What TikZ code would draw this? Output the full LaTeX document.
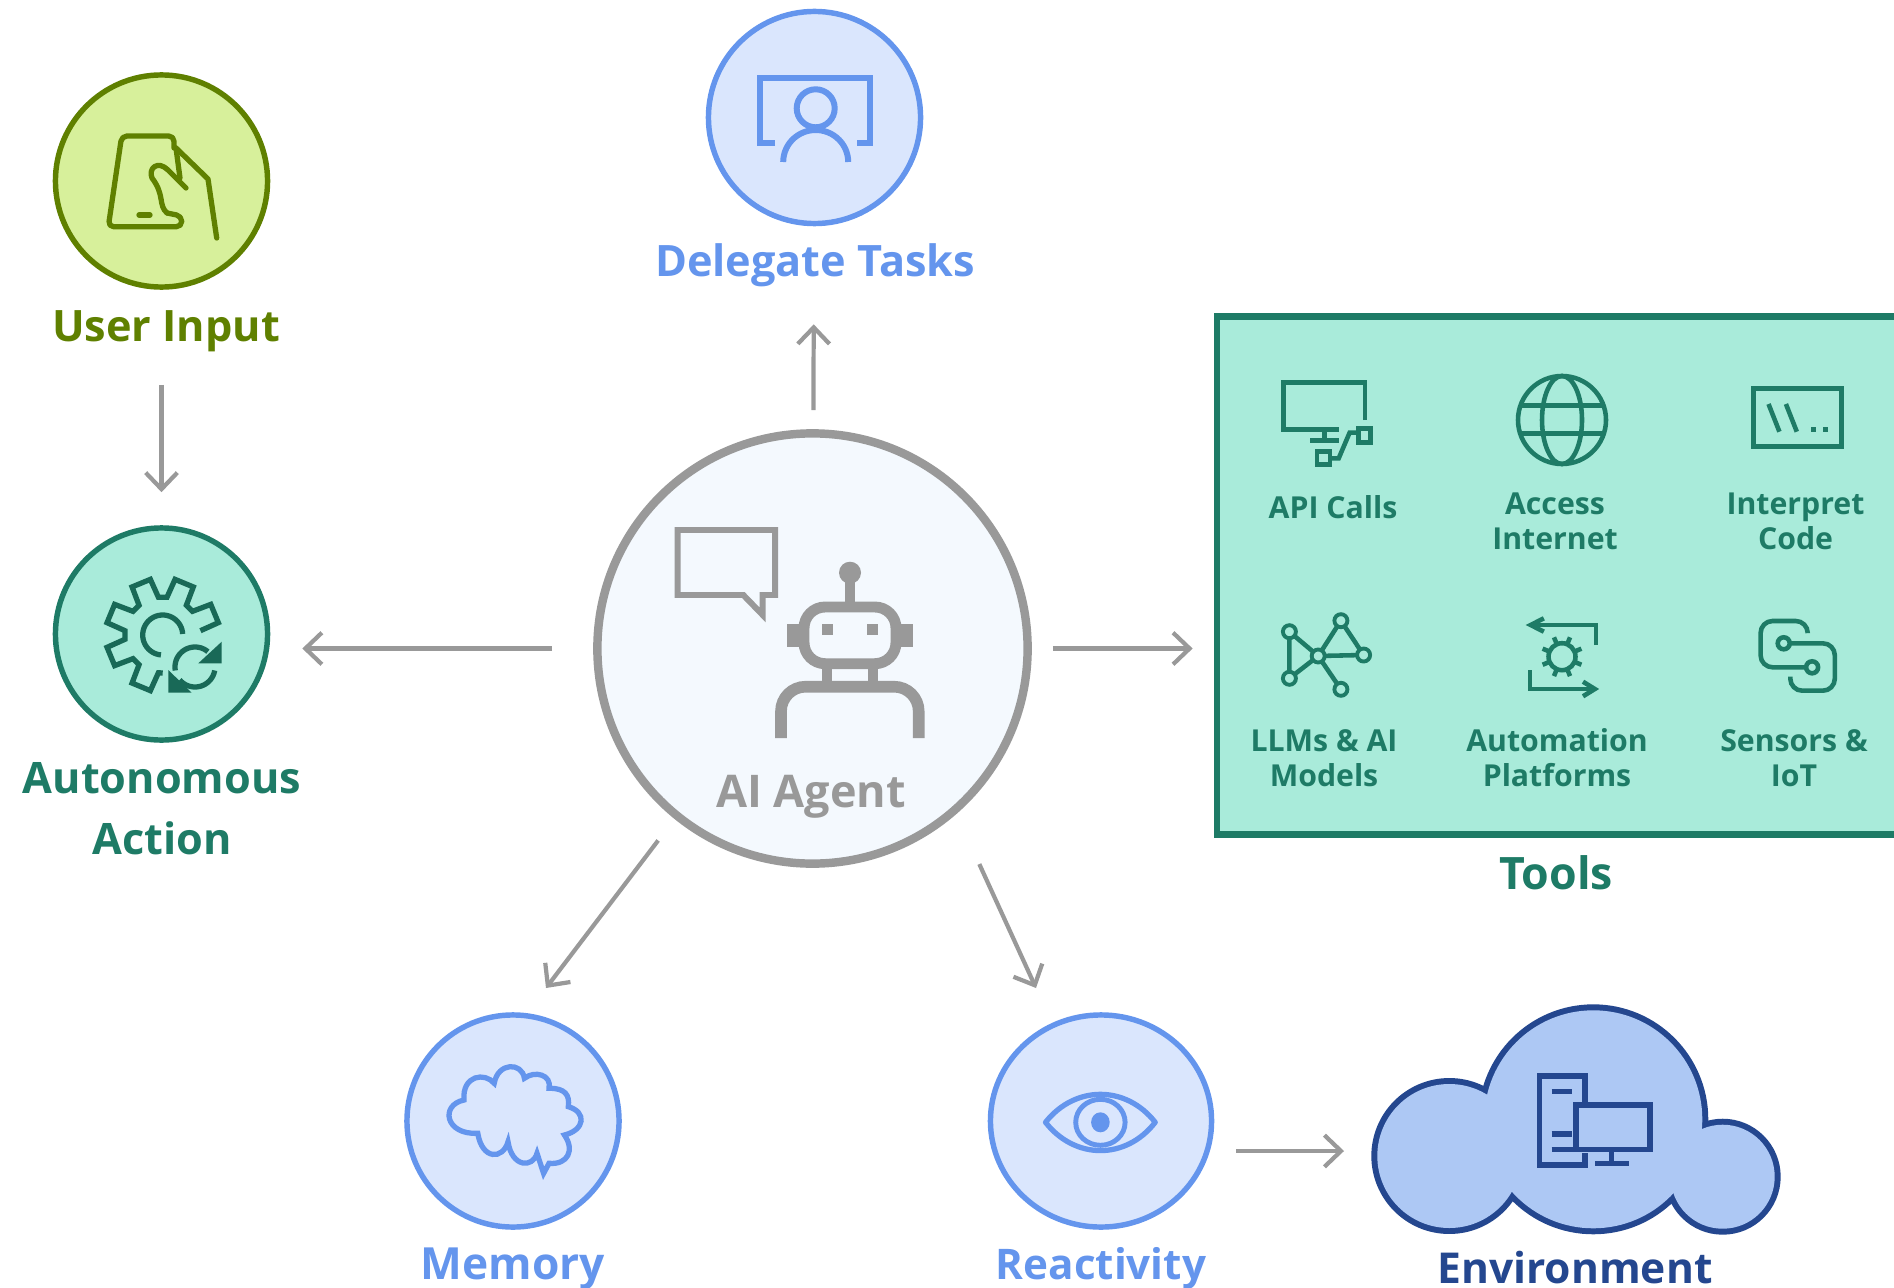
\documentclass[tikz,border=0pt]{standalone}
\usepackage{fontspec}
\setmainfont{Open Sans}
\usetikzlibrary{scopes,arrows.meta,shapes.geometric}

\definecolor{grass}{HTML}{5F8000}
\definecolor{grassfill}{HTML}{D7F09B}
\definecolor{teal}{HTML}{1E7B66}
\definecolor{tealfill}{HTML}{A9EBDA}
\definecolor{sky}{HTML}{6495ED}
\definecolor{skyfill}{HTML}{DAE6FD}
\definecolor{ash}{HTML}{999999}
\definecolor{ashfill}{HTML}{F4F9FE}
\definecolor{navy}{HTML}{24478F}
\definecolor{navyfill}{HTML}{ADC8F4}

\begin{document}
\begin{tikzpicture}[
    x=0.01cm,y=-0.01cm,
    ball/.style={circle,inner sep=0pt,minimum size=2.12cm,line width=1.55pt},
    flow/.style={draw=ash,line width=1.2pt,-{Straight Barb[length=4.7pt,width=9pt]}},
    title/.style={font=\bfseries\fontsize{12.3}{17.2}\selectfont,anchor=base,align=center,inner sep=0pt},
    tool/.style={font=\bfseries\fontsize{8.6}{9.7}\selectfont,text=teal,anchor=base,align=center,inner sep=0pt},
    pen/.style={line width=1.5pt},
    thin pen/.style={line width=1.3pt},
    hub/.style={circle,draw=teal,fill=tealfill,inner sep=0pt,minimum size=0.13cm,line width=1.1pt},
]
    \path[clip,use as bounding box] (0,0) rectangle (1894,1288);

    %%%
    % Round nodes
    \node[ball,draw=grass,fill=grassfill] (user) at (161.5,181) {};
    \node[ball,draw=teal,fill=tealfill] (action) at (161.5,634) {};
    \node[ball,draw=sky,fill=skyfill] (delegate) at (814.5,117.5) {};
    \node[ball,draw=sky,fill=skyfill] (memory) at (513,1121) {};
    \node[ellipse,inner sep=0pt,minimum width=2.21cm,minimum height=2.12cm,line width=1.55pt,draw=sky,fill=skyfill] (react) at (1101,1121) {};
    \node[circle,inner sep=0pt,minimum size=4.3cm,line width=2.4pt,draw=ash,fill=ashfill] (agent) at (812.5,648.5) {};
    \node[rectangle,inner sep=0pt,minimum width=6.93cm,minimum height=5.18cm,line width=1.8pt,draw=teal,fill=tealfill] (toolbox) at (1563.5,575.5) {};

    %%%
    % Cloud
    \foreach \cx/\cy/\r in {1449.3/1156/72,1593.3/1119.3/109,1722.7/1176.7/52}
        \draw[navy,line width=3.4pt] (\cx,\cy) circle[radius=\r];
    \foreach \cx/\cy/\r in {1449.3/1156/72,1593.3/1119.3/109,1722.7/1176.7/52}
        \fill[navyfill] (\cx,\cy) circle[radius=\r];
    \coordinate (envin) at (1344,1151);

    %%%
    % Labels
    \node[title,text=grass] (userlabel) at (166,341) {User Input};
    \node[title,text=teal] (actionlabel) at (162,854) {Autonomous\\Action};
    \node[title,text=sky] (delegatelabel) at (815,276) {Delegate Tasks};
    \node[title,text=sky,font=\bfseries\fontsize{12.6}{17}\selectfont] (memorylabel) at (513,1279) {Memory};
    \node[title,text=sky,font=\bfseries\fontsize{12}{17}\selectfont] (reactlabel) at (1101,1279) {Reactivity};
    \node[title,text=navy,font=\bfseries\fontsize{12.1}{17}\selectfont] (envlabel) at (1575,1283) {Environment};
    \node[title,text=teal,font=\bfseries\fontsize{12.7}{17}\selectfont] (toolslabel) at (1556,889) {Tools};
    \node[title,text=ash,font=\bfseries\fontsize{12.8}{17}\selectfont] (agentlabel) at (811,807) {AI Agent};

    \node[tool] (api) at (1333,518) {API Calls};
    \node[tool] (access) at (1555,549) {Access\\Internet};
    \node[tool] (interpret) at (1795.5,549) {Interpret\\Code};
    \node[tool] (llm) at (1324,786) {LLMs \& AI\\Models};
    \node[tool] (automation) at (1557,786) {Automation\\Platforms};
    \node[tool] (sensors) at (1794,786) {Sensors \&\\IoT};

    %%%
    % Arrows
    \draw[flow,shorten <=95*0.2845pt,shorten >=33*0.2845pt] (user) -- (action);
    \draw[flow,shorten <=19*0.2845pt,shorten >=98*0.2845pt] (agent) -- (delegate);
    \draw[flow,shorten <=41*0.2845pt,shorten >=32*0.2845pt] (agent.west) -- (action.east |- agent.west);
    \draw[flow,shorten <=21*0.2845pt,shorten >=21*0.2845pt] (agent.east) -- (toolbox.west |- agent.east);
    \coordinate (memtip) at (546,988);
    \coordinate (reacttip) at (1036,988);
    \draw[flow,shorten <=27*0.2845pt] (agent.231) -- (memtip);
    \draw[flow,shorten <=55*0.2845pt] (agent.-49.6) -- (reacttip);
    \draw[flow,shorten <=22*0.2845pt] (react.east |- envin) -- (envin);

    %%%
    % User icon
    {[grass,pen,line join=round,line cap=round]
        \draw[rounded corners=1.5pt] (174,148) -- (174,136) -- (121.7,136) -- (108.3,226.7) -- (181.7,226.7) -- (181.7,216) -- (167,213);
        \draw (167,213) .. controls (158,205) and (165,195) .. (152,178) .. controls (148,168) and (158,160) .. (168,170) -- (186,188);
        \draw (176,148) -- (208,179) -- (216.7,238);
        \draw (176,148) -- (180,178);
        \draw (139,215) -- (150,215);
    }

    %%%
    % Gear icon
    \begin{scope}[shift={(162.7,635)}]
        \draw[teal!85!black,pen,line join=miter] (90:38)
            \foreach \a in {112.5,157.5,202.5,247.5,292.5,337.5} {
                -- (\a-16:38) -- (\a-10:57) -- (\a+10:57) -- (\a+16:38)
            };
        \draw[teal!85!black,pen] plot[domain=-3:-265,samples=40] ({20*cos(\x)},{20*sin(\x)});
    \end{scope}
    \begin{scope}[shift={(195,667)}]
        \draw[teal!85!black,pen] plot[domain=-190:-50,samples=30] ({20*cos(\x)},{20*sin(\x)});
        \draw[teal!85!black,pen] plot[domain=10:140,samples=30] ({20*cos(\x)},{20*sin(\x)});
    \end{scope}
    \fill[teal!85!black] (221.7,641.7) -- (221.7,663.3) -- (198.3,663.3) -- cycle;
    \fill[teal!85!black] (168.3,670) -- (168.3,692.7) -- (191.7,692.7) -- cycle;

    %%%
    % Delegate icon
    {[sky,line width=1.7pt]
        \draw (775,143.3) -- (760,143.3) -- (760,78.3) -- (870,78.3) -- (870,143.3) -- (856.7,143.3);
        \draw (815.7,108.3) circle[radius=19];
        \draw plot[domain=180:360,samples=30] ({815.7+32.5*cos(\x)},{162+32*sin(\x)});
    }

    %%%
    % Agent icon
    {[ash]
        \draw[line width=1.7pt,line join=miter] (677.7,530) -- (775,530) -- (775,595) -- (762.7,595) -- (762.7,615) -- (743.3,595) -- (677.7,595) -- cycle;
        \fill (850,572.7) circle[radius=11];
        \draw[line width=2.9pt] (850,575) -- (850,604);
        \draw[line width=3.1pt,rounded corners=6] (804,607) rectangle (896,663.7);
        \fill (787.3,624) rectangle (800,646.7);
        \fill (900,624) rectangle (912.7,646.7);
        \fill (821.7,624) rectangle (832.7,635);
        \fill (867.3,624) rectangle (878.3,635);
        \draw[line width=3.1pt] (827,669) -- (827,684);
        \draw[line width=3.1pt] (873,669) -- (873,684);
        \draw[line width=3.3pt,rounded corners=7] (781,738) -- (781,686.7) -- (918.7,686.7) -- (918.7,738);
    }

    %%%
    % API icon
    {[teal,thin pen]
        \draw (1364.9,420) -- (1364.9,382.7) -- (1283.3,382.7) -- (1283.3,429.3) -- (1338.7,429.3);
        \draw (1324.3,429.3) -- (1324.3,440.7);
        \draw (1310.3,440.7) -- (1338.7,440.7);
        \draw (1358.3,428.3) rectangle (1370.6,442.3);
        \draw (1316.9,451.7) rectangle (1330,464.3);
        \draw (1330,458.3) -- (1338.7,458.3) -- (1349.6,432.7) -- (1358.3,432.7);
    }

    %%%
    % Globe icon
    {[teal,thin pen]
        \draw (1562,420) circle[radius=44];
        \draw (1562,420) ellipse[x radius=20,y radius=44];
        \draw (1520,405.5) -- (1604,405.5);
        \draw (1520,433.5) -- (1604,433.5);
    }

    %%%
    % Code icon
    {[teal,thin pen]
        \draw[line width=1.5pt] (1753.2,388.3) rectangle (1841.8,446.7);
        \draw (1768.5,404) -- (1779.4,431.7);
        \draw (1785.9,404) -- (1796.8,431.7);
        \fill (1810.5,426.8) rectangle (1815.5,431.8);
        \fill (1822.5,426.8) rectangle (1827.5,431.8);
    }

    %%%
    % Model icon
    \foreach \name/\nx/\ny in {na/1340.9/620.7,nb/1289.4/631.7,nc/1363.6/655,nd/1289.4/678.3,ne/1340.9/689.3,nf/1318.2/656}
        \coordinate (\name) at (\nx,\ny);
    \draw[teal,thin pen] (nb) -- (nd) -- (nf) -- (nb);
    \draw[teal,thin pen] (nf) -- (na) -- (nc) -- (nf) -- (ne);
    \foreach \name/\nx/\ny in {hna/1340.9/620.7,hnb/1289.4/631.7,hnc/1363.6/655,hnd/1289.4/678.3,hne/1340.9/689.3,hnf/1318.2/656}
        \node[hub] (\name) at (\nx,\ny) {};

    %%%
    % Automation icon
    \begin{scope}[teal,thin pen]
        \draw (1596.1,645) -- (1596.1,625) -- (1530.7,625);
        \draw (1543.8,618.3) -- (1530.7,625) -- (1543.8,631.7);
        \draw (1529.8,670) -- (1529.8,689) -- (1594.8,689);
        \draw (1583,681.7) -- (1594.8,689) -- (1583,696.3);
    \end{scope}
    \begin{scope}[shift={(1562,656.7)}]
        \draw[teal,thin pen] (0,0) circle[radius=13.5];
        \foreach \a in {22.5,67.5,...,337.5}
            \draw[teal,thin pen] (\a:13.5) -- (\a:21);
    \end{scope}

    %%%
    % Sensor icon
    \begin{scope}[teal,thin pen]
        \draw[rounded corners=3.4pt] (1807.7,633) -- (1807.7,621) -- (1760.6,621) -- (1760.6,667.3) -- (1806,667.3);
        \draw[rounded corners=3.4pt] (1790,643.3) -- (1834.8,643.3) -- (1834.8,690.7) -- (1790.3,690.7) -- (1790.3,676.7);
        \draw (1812.1,667.3) circle[radius=6];
        \draw (1783.7,643.3) circle[radius=6];
    \end{scope}

    %%%
    % Brain icon
    \draw[sky,line width=1.5pt,line join=miter]
        (464,1100) .. controls (462,1075) and (485,1072) .. (494.2,1083.3)
        .. controls (498,1062) and (522,1062) .. (524.4,1078.3)
        .. controls (535,1070) and (552,1075) .. (549,1088.3)
        .. controls (565,1088) and (570,1095) .. (568.3,1106.7)
        .. controls (587,1112) and (585,1130) .. (564.4,1135)
        .. controls (575,1150) and (568,1165) .. (549,1163.3)
        -- (543.6,1173.3) -- (537,1153.3)
        .. controls (533,1168) and (512,1168) .. (508,1141.7)
        .. controls (503,1160) and (482,1160) .. (477.8,1133.3)
        .. controls (445,1135) and (440,1105) .. cycle;

    %%%
    % Eye icon
    {[sky]
        \draw[line width=1.5pt,line join=round] (1045.5,1122.3) .. controls (1075,1085) and (1126,1085) .. (1155.2,1122.3)
            .. controls (1126,1160) and (1075,1160) .. cycle;
        \draw[line width=1.4pt] (1100.4,1122.3) ellipse[x radius=24.7,y radius=23];
        \fill (1100.4,1122.3) ellipse[x radius=9.3,y radius=10];
    }

    %%%
    % Computer icon
    {[navy,line width=1.5pt]
        \draw (1585,1105) -- (1585,1076) -- (1539.3,1076) -- (1539.3,1165) -- (1585,1165) -- (1585,1153);
        \draw (1576,1105) rectangle (1650,1149.3);
        \draw (1611.7,1149.3) -- (1611.7,1163.3);
        \draw (1595,1163.3) -- (1629.3,1163.3);
        \draw (1551.7,1091.7) -- (1571.7,1091.7);
        \draw (1551.7,1134) -- (1572,1134);
        \draw (1551.7,1149.3) -- (1576,1149.3);
    }

\end{tikzpicture}
\end{document}
